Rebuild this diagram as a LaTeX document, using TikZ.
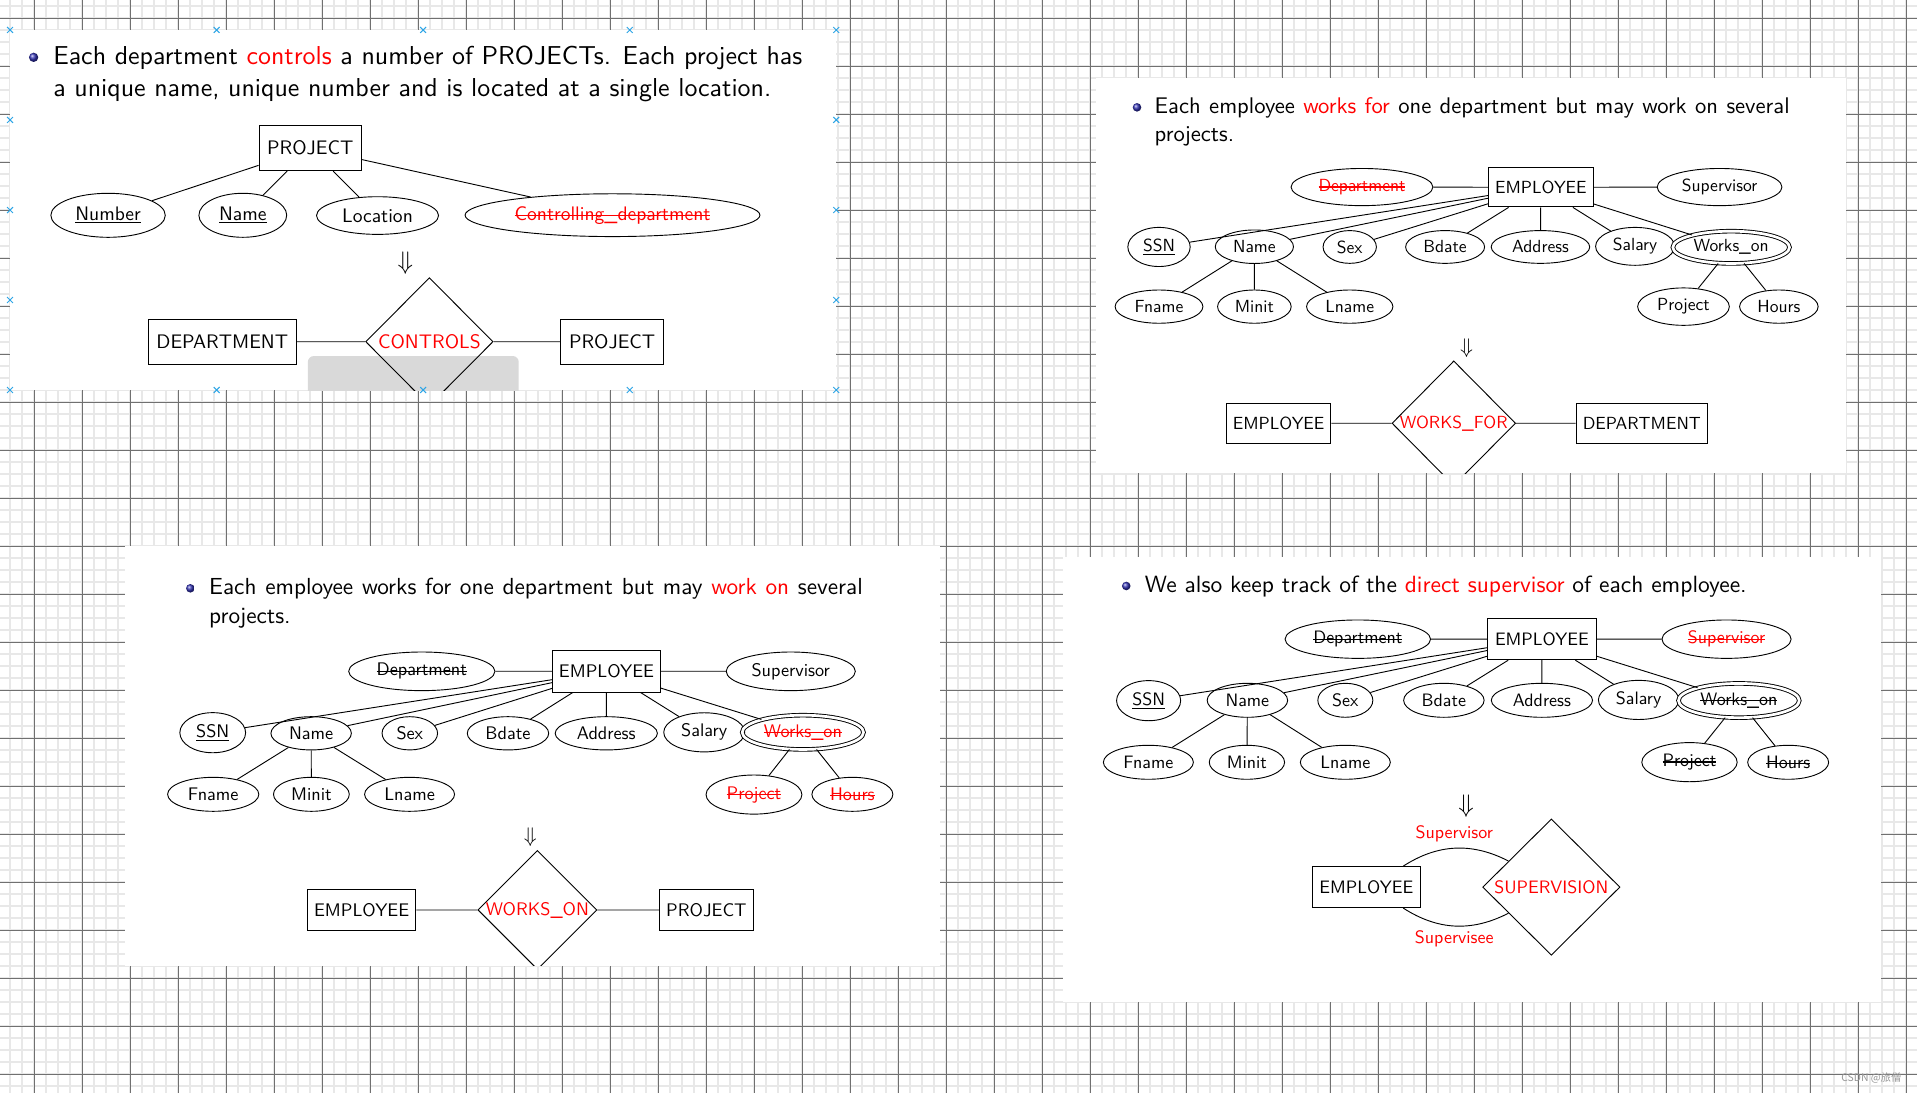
\documentclass[tikz,border=0pt]{standalone}
\usepackage{fontspec}
\setsansfont{lmsans10-regular}[Extension=.otf]
\newfontfamily\cjkwm{Noto Sans CJK SC}
\renewcommand{\familydefault}{\sfdefault}
\usetikzlibrary{shapes.geometric,calc}
\newsavebox{\strkbox}
\newcommand{\strk}[1]{\sbox{\strkbox}{#1}\usebox{\strkbox}\hspace{-\wd\strkbox}\rule[0.5ex]{\wd\strkbox}{0.9pt}}
\definecolor{gminor}{RGB}{232,232,232}
\definecolor{gmajor}{RGB}{112,112,112}
\definecolor{selx}{RGB}{45,165,230}
\definecolor{ballc}{RGB}{51,51,179}
\definecolor{graybar}{RGB}{217,217,217}
\definecolor{wmark}{RGB}{150,150,150}
\newcommand{\fsz}[1]{\fontsize{#1}{#1}\selectfont}
\tikzset{
  gmin/.style={gminor, line width=1.5pt},
  gmaj/.style={gmajor, line width=0.8pt},
  ln/.style={line width=0.75pt},
  ent/.style={draw, rectangle, inner sep=0pt, line width=0.8pt},
  att/.style={draw, ellipse, inner sep=0pt, line width=0.75pt},
  watt/.style={att, double, double distance=2.2pt},
  rel/.style={draw, diamond, inner sep=0pt, line width=0.75pt, text=red},
  bx/.style 2 args={minimum width=#1, minimum height=#2},
  ell/.style 2 args={minimum width=2*#1, minimum height=2*#2},
  txt/.style={anchor=base west, inner sep=0pt},
  xm/.style={selx, line width=0.8pt},
}
\begin{document}
\begin{tikzpicture}[x=1pt,y=-1pt]
\useasboundingbox (0,0) rectangle (1568,894);
\fill[white] (0,0) rectangle (1568,894);
% grid
\foreach \i in {-2,...,157}{\draw[gmin] ({28.06+9.8153*\i},0) -- ({28.06+9.8153*\i},894);}
\foreach \j in {-1,...,90}{\draw[gmin] (0,{14.97+9.8153*\j}) -- (1568,{14.97+9.8153*\j});}
\foreach \i in {0,...,39}{\draw[gmaj] ({28.06+39.261*\i},0) -- ({28.06+39.261*\i},894);}
\foreach \j in {0,...,22}{\draw[gmaj] (0,{14.97+39.261*\j}) -- (1568,{14.97+39.261*\j});}

% ================= Panel 1
\fill[white] (8.2,24.5) rectangle (684,319);
\begin{scope}
\clip (8.2,24.5) rectangle (684,319);
\fill[graybar, rounded corners=5pt] (251.8,291.2) rectangle (424.3,335);
\shade[ball color=ballc] (27.5,46.9) circle (3.8);
\begin{scope}[font=\fsz{21.2}]
\node[txt] (aT1) at (43.4,52.5) {\makebox[612.7pt][s]{Each department \textcolor{red}{controls} a number of PROJECTs. Each project has}};
\node[txt] (aT2) at (43.4,79.1) {a unique name, unique number and is located at a single location.};
\node (aArr) at (331.6,215.4) {$\Downarrow$};
\end{scope}
\begin{scope}[font=\fsz{16}]
\node[ent, bx={83.8}{36.8}] (aPro) at (253.8,121.2) {PROJECT};
\node[att, ell={46.8}{18}] (aNum) at (88.4,176.1) {\underline{Number}};
\node[att, ell={35.9}{18}] (aNam) at (198.6,176.1) {\underline{Name}};
\node[att, ell={49.9}{15.4}] (aLoc) at (308.8,176.3) {Location};
\node[att, ell={120.6}{17.5}] (aCtl) at (501,176) {\textcolor{red}{\strk{Controlling\_department}}};
\node[ent, bx={121.5}{37}] (aDep) at (181.8,279.5) {DEPARTMENT};
\node[rel, bx={104.2}{104.8}] (aRel) at (351.2,279.5) {CONTROLS};
\node[ent, bx={83.8}{37}] (aP2) at (500.7,279.5) {PROJECT};
\end{scope}
\draw[ln] (aPro) -- (aNum) (aPro) -- (aNam) (aPro) -- (aLoc) (aPro) -- (aCtl)
  (aDep) -- (aRel) (aRel) -- (aP2);
\end{scope}
\foreach \x/\y in {8.2/24.5, 177.2/24.5, 346.1/24.5, 515.1/24.5, 684/24.5,
  8.2/319, 177.2/319, 346.1/319, 515.1/319, 684/319,
  8.2/98.1, 8.2/171.8, 8.2/245.4, 684/98.1, 684/171.8, 684/245.4}
  {\draw[xm] (\x-2.4,\y-2.4) -- (\x+2.4,\y+2.4) (\x-2.4,\y+2.4) -- (\x+2.4,\y-2.4);}

% ================= Panel 2
\fill[white] (896.2,64.1) rectangle (1509.6,387.2);
\begin{scope}
\clip (896.2,64.1) rectangle (1509.6,387.2);
\shade[ball color=ballc] (930,87.8) circle (3.5);
\begin{scope}[font=\fsz{18.5}]
\node[txt] (bT1) at (944.3,92.7) {\makebox[519.4pt][s]{Each employee \textcolor{red}{works for} one department but may work on several}};
\node[txt] (bT2) at (944.3,115.9) {projects.};
\node (bArr) at (1199.6,284.9) {$\Downarrow$};
\end{scope}
\begin{scope}[font=\fsz{14.35}]
\node[att, ell={58}{15.2}] (bDep) at (1114,153) {\textcolor{red}{\strk{Department}}};
\node[ent, bx={85.7}{32.1}] (bEmp) at (1260.3,153.2) {EMPLOYEE};
\node[att, ell={51}{15.2}] (bSup) at (1406.5,153) {Supervisor};
\node[att, ell={25.5}{16}] (bSSN) at (948,202) {\underline{SSN}};
\node[att, ell={32}{13.7}] (bNam) at (1026,201.8) {Name};
\node[att, ell={21.8}{13.4}] (bSex) at (1104,202) {Sex};
\node[att, ell={32.3}{13.4}] (bBda) at (1182,202) {Bdate};
\node[att, ell={40.3}{13.4}] (bAdr) at (1260,202) {Address};
\node[att, ell={32.3}{15.5}] (bSal) at (1337.4,201.5) {Salary};
\node[watt, ell={47.7}{13.2}] (bWon) at (1416,202.3) {Works\_on};
\node[att, ell={35.9}{13.6}] (bFna) at (948,250.8) {Fname};
\node[att, ell={30.1}{13.6}] (bMin) at (1026,250.8) {Minit};
\node[att, ell={35.3}{13.6}] (bLna) at (1104,250.8) {Lname};
\node[att, ell={37.5}{15.3}] (bPrj) at (1377,250.8) {Project};
\node[att, ell={32.1}{13.6}] (bHrs) at (1455,250.8) {Hours};
\node[ent, bx={85.6}{32.7}] (bE2) at (1045.8,346.2) {EMPLOYEE};
\node[rel, bx={101.1}{102}] (bRel) at (1189.1,346.2) {WORKS\_FOR};
\node[ent, bx={107.4}{32.7}] (bD2) at (1342.9,346.2) {DEPARTMENT};
\end{scope}
\draw[ln] (bEmp) -- (bDep) (bEmp) -- (bSup) (bEmp) -- (bSSN) (bEmp) -- (bNam)
  (bEmp) -- (bSex) (bEmp) -- (bBda) (bEmp) -- (bAdr) (bEmp) -- (bSal) (bEmp) -- (bWon)
  (bNam) -- (bFna) (bNam) -- (bMin) (bNam) -- (bLna) (bWon) -- (bPrj) (bWon) -- (bHrs)
  (bE2) -- (bRel) (bRel) -- (bD2);
\end{scope}

% ================= Panel 3
\fill[white] (102.2,446.6) rectangle (768.9,789.9);
\begin{scope}
\clip (102.2,446.6) rectangle (768.9,789.9);
\shade[ball color=ballc] (155.7,481.2) circle (3.5);
\begin{scope}[font=\fsz{19}]
\node[txt] (cT1) at (170.9,486.1) {\makebox[534.7pt][s]{Each employee works for one department but may \textcolor{red}{work on} several}};
\node[txt] (cT2) at (170.9,509.9) {projects.};
\node (cArr) at (433.7,684.4) {$\Downarrow$};
\end{scope}
\begin{scope}[font=\fsz{14.9}]
\node[att, ell={59.8}{15.8}] (cDep) at (345,549.1) {\strk{Department}};
\node[ent, bx={88.3}{34.1}] (cEmp) at (496.1,549) {EMPLOYEE};
\node[att, ell={52.8}{15.8}] (cSup) at (646.8,549.1) {Supervisor};
\node[att, ell={26.9}{16.4}] (cSSN) at (174,599.3) {\underline{SSN}};
\node[att, ell={32.9}{13.6}] (cNam) at (254.5,599.8) {Name};
\node[att, ell={22.7}{13.6}] (cSex) at (335.2,599.8) {Sex};
\node[att, ell={33.3}{13.6}] (cBda) at (415.5,599.8) {Bdate};
\node[att, ell={41.8}{13.6}] (cAdr) at (495.9,599.8) {Address};
\node[att, ell={33.1}{16}] (cSal) at (576,599) {Salary};
\node[watt, ell={49.6}{14}] (cWon) at (656.7,599) {\textcolor{red}{\strk{Works\_on}}};
\node[att, ell={37.3}{13.9}] (cFna) at (174.4,649.7) {Fname};
\node[att, ell={31}{13.9}] (cMin) at (254.7,649.7) {Minit};
\node[att, ell={36.8}{13.9}] (cLna) at (335,649.7) {Lname};
\node[att, ell={39.2}{16}] (cPrj) at (616.7,649.9) {\textcolor{red}{\strk{Project}}};
\node[att, ell={33.1}{13.9}] (cHrs) at (697.2,649.7) {\textcolor{red}{\strk{Hours}}};
\node[ent, bx={88.8}{33.8}] (cE2) at (295.8,744.3) {EMPLOYEE};
\node[rel, bx={96.6}{96.4}] (cRel) at (439.6,744.3) {WORKS\_ON};
\node[ent, bx={76.7}{33.8}] (cP2) at (577.8,744.3) {PROJECT};
\end{scope}
\draw[ln] (cEmp) -- (cDep) (cEmp) -- (cSup) (cEmp) -- (cSSN) (cEmp) -- (cNam)
  (cEmp) -- (cSex) (cEmp) -- (cBda) (cEmp) -- (cAdr) (cEmp) -- (cSal) (cEmp) -- (cWon)
  (cNam) -- (cFna) (cNam) -- (cMin) (cNam) -- (cLna) (cWon) -- (cPrj) (cWon) -- (cHrs)
  (cE2) -- (cRel) (cRel) -- (cP2);
\end{scope}

% ================= Panel 4
\fill[white] (869.7,455.8) rectangle (1538.5,819.3);
\begin{scope}
\clip (869.7,455.8) rectangle (1538.5,819.3);
\shade[ball color=ballc] (921.2,479.3) circle (3.5);
\begin{scope}[font=\fsz{19.2}]
\node[txt] (dT1) at (936.3,484.3) {We also keep track of the \textcolor{red}{direct supervisor} of each employee.};
\node (dArr) at (1199.1,659.3) {$\Downarrow$};
\end{scope}
\begin{scope}[font=\fsz{14.7}]
\node[att, ell={59.5}{15.7}] (dDep) at (1110.6,522.8) {\strk{Department}};
\node[ent, bx={88.7}{33.6}] (dEmp) at (1261.2,522.8) {EMPLOYEE};
\node[att, ell={52.8}{15.7}] (dSup) at (1412.2,522.8) {\textcolor{red}{\strk{Supervisor}}};
\node[att, ell={26.2}{16.4}] (dSSN) at (939.5,573.1) {\underline{SSN}};
\node[att, ell={32.9}{13.9}] (dNam) at (1020.3,572.8) {Name};
\node[att, ell={22.5}{13.9}] (dSex) at (1100.4,572.8) {Sex};
\node[att, ell={32.9}{13.9}] (dBda) at (1181,572.8) {Bdate};
\node[att, ell={41.4}{13.9}] (dAdr) at (1261.2,572.8) {Address};
\node[att, ell={32.9}{16}] (dSal) at (1340.3,572.5) {Salary};
\node[watt, ell={49.4}{14}] (dWon) at (1422.3,573) {\strk{Works\_on}};
\node[att, ell={36.8}{13.9}] (dFna) at (939.3,623.5) {Fname};
\node[att, ell={30.8}{13.9}] (dMin) at (1019.9,623.5) {Minit};
\node[att, ell={36.8}{13.9}] (dLna) at (1100.4,623.5) {Lname};
\node[att, ell={39}{16}] (dPrj) at (1381.9,623.4) {\strk{Project}};
\node[att, ell={33.1}{13.9}] (dHrs) at (1462.6,623.5) {\strk{Hours}};
\node[ent, bx={88.3}{33.5}] (dE2) at (1117.6,725.6) {EMPLOYEE};
\node[rel, bx={112.3}{111.5}] (dRel) at (1268.9,725.6) {SUPERVISION};
\node[text=red] (dLs) at (1189.5,682.2) {Supervisor};
\node[text=red] (dLe) at (1189.5,767.5) {Supervisee};
\end{scope}
\draw[ln] (dEmp) -- (dDep) (dEmp) -- (dSup) (dEmp) -- (dSSN) (dEmp) -- (dNam)
  (dEmp) -- (dSex) (dEmp) -- (dBda) (dEmp) -- (dAdr) (dEmp) -- (dSal) (dEmp) -- (dWon)
  (dNam) -- (dFna) (dNam) -- (dMin) (dNam) -- (dLna) (dWon) -- (dPrj) (dWon) -- (dHrs);
\draw[ln] ([xshift=-14.4pt]dE2.north east) to[bend left=30] ($(dRel.west)!0.38!(dRel.north)$);
\draw[ln] ([xshift=-14.4pt]dE2.south east) to[bend right=30] ($(dRel.west)!0.38!(dRel.south)$);
\end{scope}

% watermark
\node[text=wmark, font=\cjkwm\fontsize{8.5}{9}\selectfont, anchor=east, inner sep=0pt] (wm) at (1555.5,881.5) {CSDN @旅僧};
\end{tikzpicture}
\end{document}
